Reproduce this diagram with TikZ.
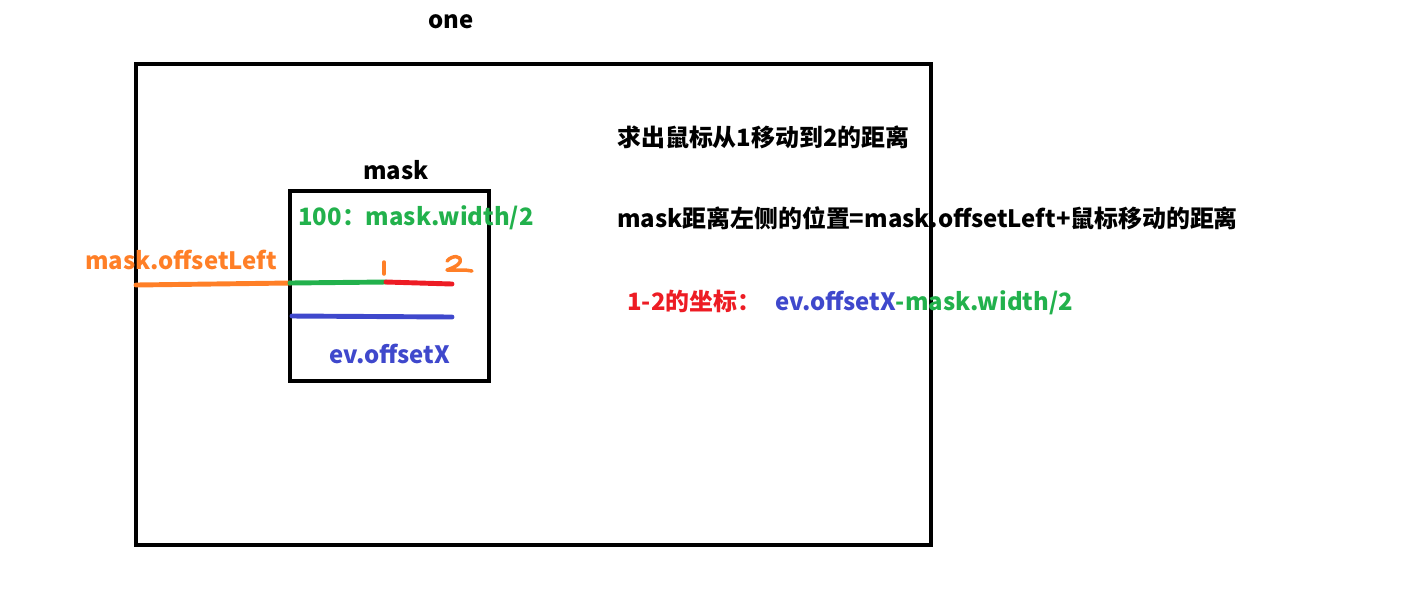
\documentclass[tikz,border=0pt]{standalone}
\usepackage{fontspec}
\setmainfont{Noto Sans CJK SC}
\usepackage{xcolor}
\definecolor{pOrange}{HTML}{FF7F27}
\definecolor{pGreen}{HTML}{22B14C}
\definecolor{pRed}{HTML}{ED1C24}
\definecolor{pBlue}{HTML}{3F48CC}
\usepackage{tikz}
\usetikzlibrary{positioning}

\begin{document}
\begin{tikzpicture}[x=0.02cm,y=-0.02cm,
  box/.style={draw=black,line width=2.3pt},
  lbl/.style={font=\fontsize{13.6}{16}\selectfont\bfseries,inner sep=0pt},
  seg/.style={line width=2.8pt,line cap=round},
  pen/.style={pOrange,line width=2pt,line cap=round,line join=round}]
\useasboundingbox (0,0) rectangle (1424,610);
% outer page and the mask box
\draw[box] (136,64) rectangle (931,545);
\draw[box] (290,191) rectangle (489,381);
\node[lbl] (one) at (451,22) {one};
\node[lbl] (mask) at (396,170) {mask};
% labels inside and left of the mask
\node[lbl,pGreen,anchor=west] (half) at (298,218) {100：mask.width/2};
\node[lbl,pOrange,anchor=west] (offl) at (85,260) {mask.offsetLeft};
\node[lbl,pBlue] (evx) at (390,354) {ev.offsetX};
% distances along the mouse path
\coordinate (o0) at (136,285);
\coordinate (m0) at (290,283);
\coordinate (p1) at (386,282);
\coordinate (p2) at (452,284);
\coordinate (b0) at (292,316);
\coordinate (b1) at (452,317);
\draw[seg,pOrange] (o0) -- (m0);
\draw[seg,pGreen] (m0) -- (p1);
\draw[seg,pRed] (p1) -- (p2);
\draw[seg,pBlue] (b0) -- (b1);
% hand written 1 and 2
\draw[pen] (384,262) -- (384,274);
\draw[pen] (447,261) .. controls (452,255) and (462,255) .. (460,262)
  .. controls (458,266) and (452,268) .. (447,270) -- (465,270) -- (472,271);
% explanation on the right
\node[lbl,anchor=west] (goal) at (617,137) {求出鼠标从1移动到2的距离};
\node[lbl,anchor=west] (pos) at (617,218) {mask距离左侧的位置=mask.offsetLeft+鼠标移动的距离};
\node[lbl,anchor=west] (coord) at (627,302)
  {\textcolor{pRed}{1-2的坐标：}\hspace{0.6em}\textcolor{pBlue}{ev.offsetX}\textcolor{pGreen}{-mask.width/2}};
\end{tikzpicture}
\end{document}
